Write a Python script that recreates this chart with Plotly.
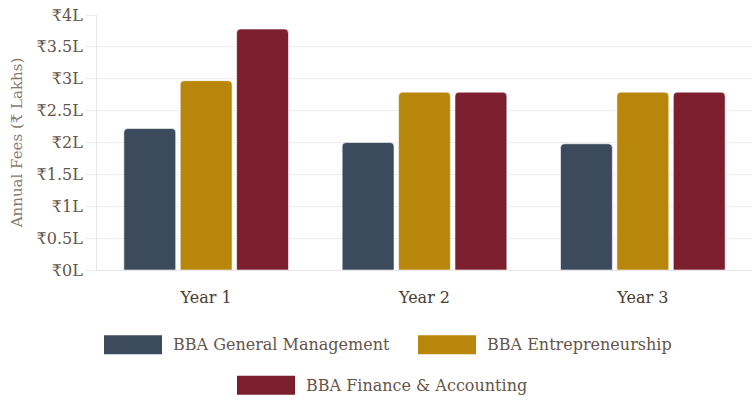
import plotly.graph_objects as go

categories = ["Year 1", "Year 2", "Year 3"]
series_names = ["BBA General Management", "BBA Entrepreneurship", "BBA Finance & Accounting"]
general_mgmt = [2.22, 2.0, 1.98]
entrepreneurship = [2.97, 2.79, 2.79]
finance_acct = [3.78, 2.79, 2.79]
colors = ["#3b4a5c", "#b8860b", "#7b1f2e"]
tick_vals = [0, 0.5, 1, 1.5, 2, 2.5, 3, 3.5, 4]
tick_text = ["₹0L", "₹0.5L", "₹1L", "₹1.5L", "₹2L", "₹2.5L", "₹3L", "₹3.5L", "₹4L"]

FONT = "DejaVu Serif"
TXT = "#65554a"

fig = go.Figure()
for name, vals, col in zip(series_names, [general_mgmt, entrepreneurship, finance_acct], colors):
    fig.add_trace(go.Bar(x=categories, y=vals, name=name,
                         marker=dict(color=col, line=dict(color="rgba(255,255,255,0.6)", width=1)),
                         showlegend=False))

# custom legend with wide swatches (pixel positions converted to paper coords)
W, H = 752, 410
L, R, T, B = 97, 0, 15, 139.5
pw, ph = W - L - R, H - T - B
legend_items = [(104, 345.5, 0), (418, 345.5, 1), (237, 386, 2)]
for px, py, i in legend_items:
    fig.add_shape(type="rect", xref="paper", yref="paper",
                  x0=(px - L) / pw, x1=(px + 58 - L) / pw,
                  y0=(H - B - (py + 9.5)) / ph, y1=(H - B - (py - 9.5)) / ph,
                  line=dict(width=0), fillcolor=colors[i])
    fig.add_annotation(xref="paper", yref="paper", x=(px + 67 - L) / pw, y=(H - B - py) / ph,
                       text=series_names[i], showarrow=False, xanchor="left", yanchor="middle",
                       font=dict(family=FONT, size=16, color=TXT))

fig.update_layout(
    width=W, height=H,
    margin=dict(l=L, r=R, t=T, b=B),
    paper_bgcolor="white", plot_bgcolor="white",
    barmode="group", bargap=0.225, bargroupgap=0.08, barcornerradius=4,
    font=dict(family=FONT, size=16, color=TXT),
    showlegend=False,
)
fig.update_yaxes(range=[0, 4], tickvals=tick_vals, ticktext=tick_text,
                 showgrid=True, gridcolor="#ececec", gridwidth=1,
                 ticks="outside", ticklen=10, tickcolor="#ececec",
                 showline=True, linecolor="#e6e6e6", linewidth=1,
                 zeroline=False,
                 title=dict(text="Annual Fees (₹ Lakhs)", font=dict(family=FONT, size=15, color="#8a7a6a"), standoff=10),
                 tickfont=dict(family=FONT, size=16, color=TXT))
fig.update_xaxes(showgrid=False, showline=True, linecolor="#e6e6e6", ticks="",
                 ticklabelstandoff=13,
                 tickfont=dict(family=FONT, size=16, color="#4a3c30"))

fig.write_html("out.html")
